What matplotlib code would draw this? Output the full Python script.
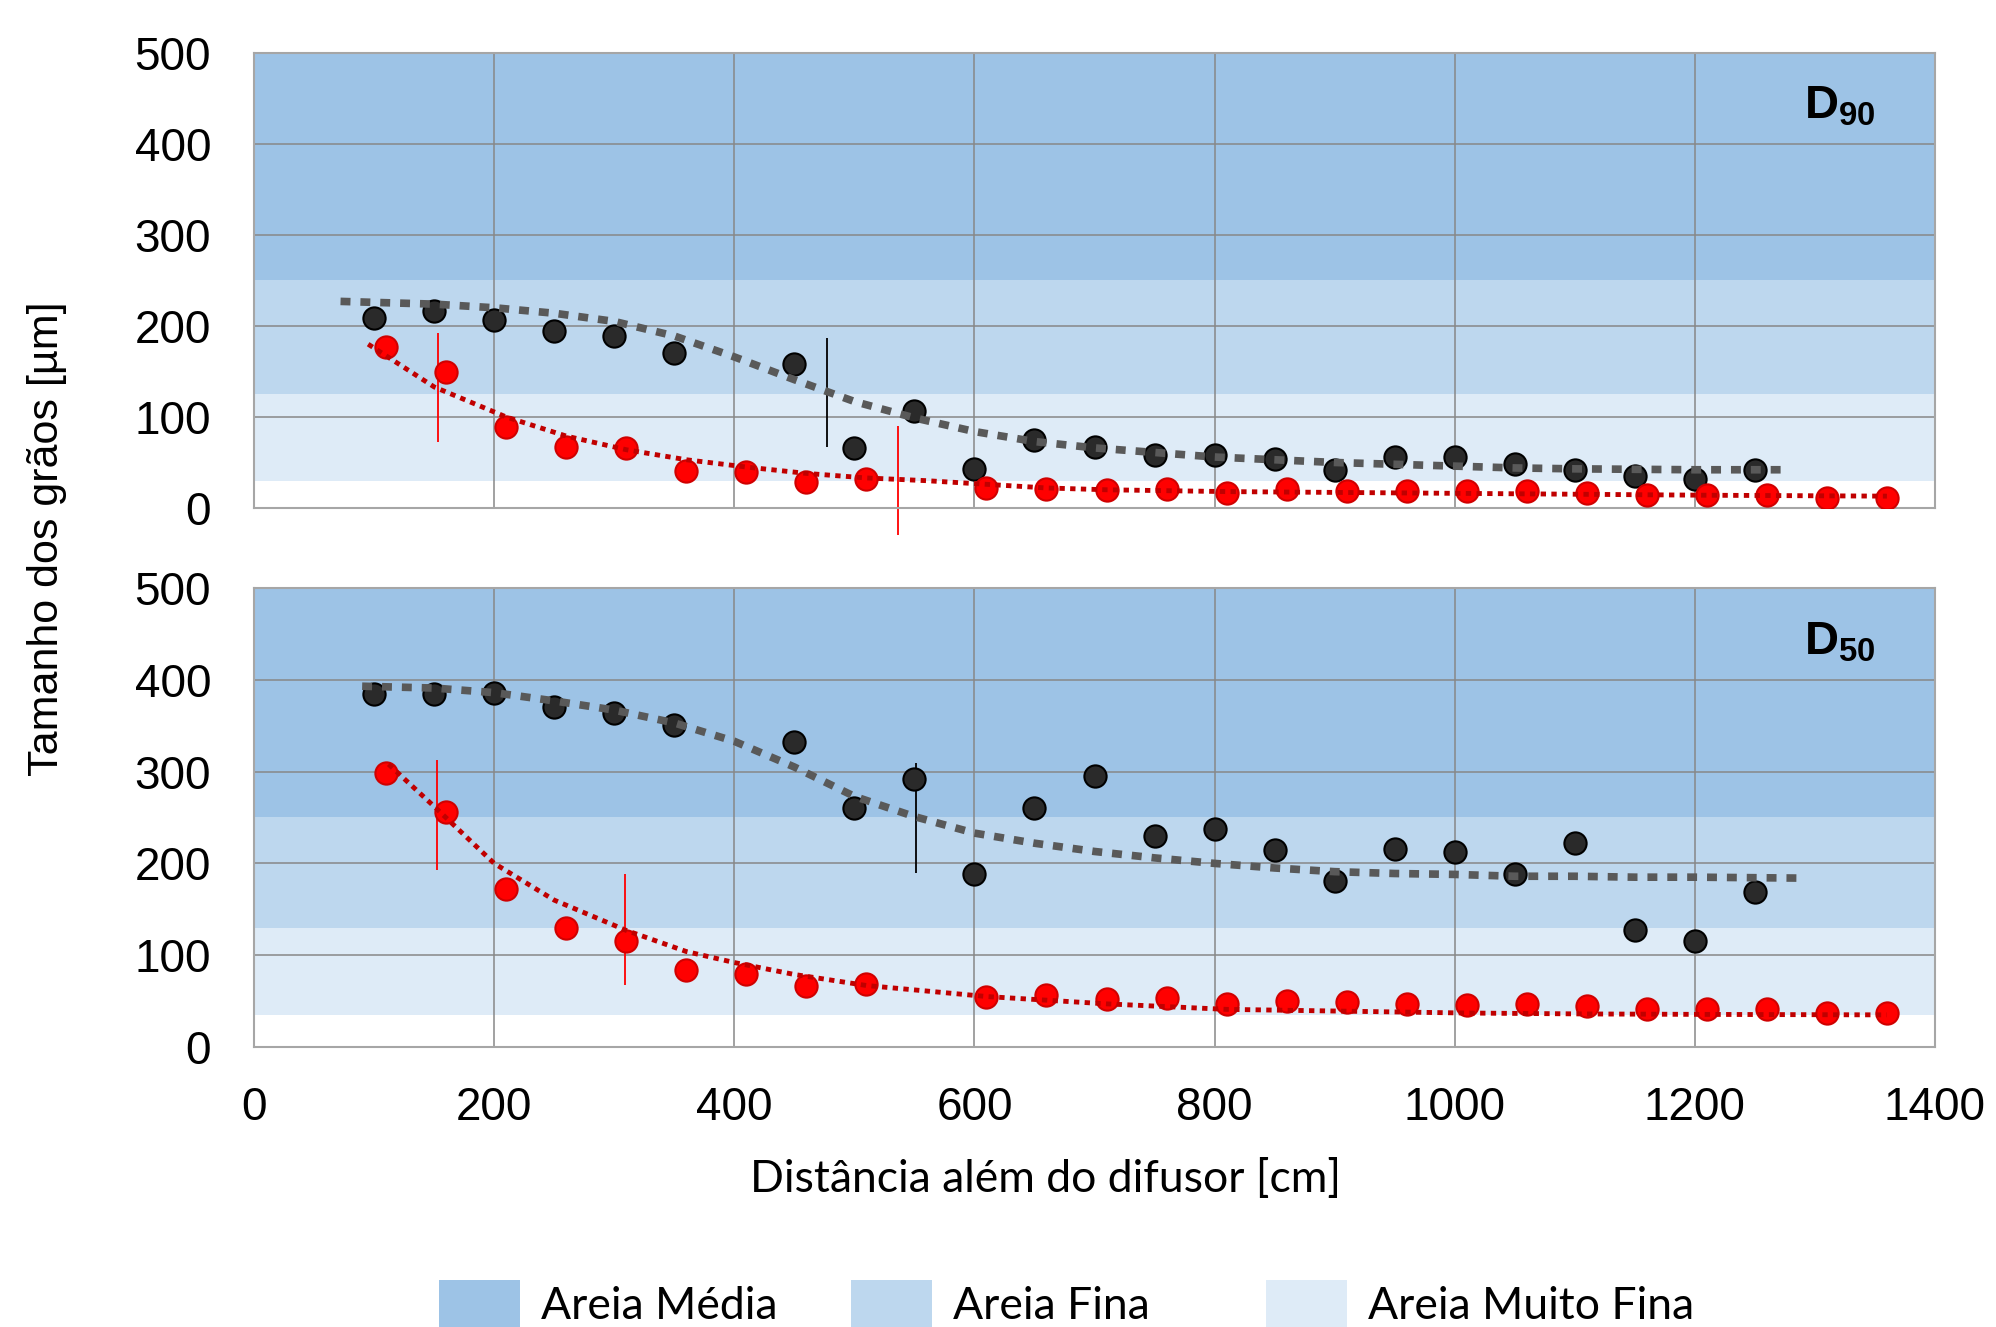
import matplotlib
matplotlib.use("Agg")
import matplotlib.pyplot as plt
from matplotlib.patches import Rectangle

plt.rcParams['font.family'] = ['Liberation Sans', 'DejaVu Sans']
plt.rcParams['mathtext.fontset'] = 'custom'
plt.rcParams['mathtext.bf'] = 'Liberation Sans:bold'
plt.rcParams['mathtext.rm'] = 'Liberation Sans'

# distance beyond diffuser (cm)
x_black = [100, 150, 200, 250, 300, 350, 450, 500, 550, 600, 650, 700, 750, 800,
           850, 900, 950, 1000, 1050, 1100, 1150, 1200, 1250]
x_red = [110, 160, 210, 260, 310, 360, 410, 460, 510, 610, 660, 710, 760, 810,
         860, 910, 960, 1010, 1060, 1110, 1160, 1210, 1260, 1310, 1360]

# D90 (um)
d90_black = [209, 216, 207, 194, 189, 170, 158, 66, 107, 43, 75, 67, 58, 58,
             54, 42, 56, 56, 48, 42, 35, 32, 42]
d90_red = [177, 149, 89, 67, 66, 41, 39, 28, 32, 22, 21, 20, 21, 17,
           21, 19, 19, 19, 19, 17, 14, 14, 14, 11, 11]
# D50 (um)
d50_black = [385, 385, 386, 370, 364, 351, 332, 260, 292, 188, 260, 295, 230, 238,
             215, 181, 216, 212, 188, 222, 127, 116, 169]
d50_red = [299, 256, 172, 130, 116, 84, 79, 66, 69, 55, 57, 52, 53, 47,
           50, 49, 47, 46, 47, 45, 41, 41, 41, 37, 37]

# trend lines
t90_black_x = [72, 150, 200, 250, 300, 350, 400, 450, 500, 550, 600, 650, 700, 750,
               800, 850, 900, 950, 1000, 1050, 1100, 1150, 1200, 1276]
t90_black_y = [227, 224, 220, 214, 205, 189, 166, 141, 117, 99, 84, 73, 66, 61,
               56, 53, 50, 48, 46, 44, 43, 42.5, 42, 42]
t90_red_x = [95, 150, 210, 260, 310, 360, 410, 460, 510, 560, 610, 660, 710, 810,
             910, 1010, 1110, 1210, 1360]
t90_red_y = [180, 133, 100, 79, 64, 53, 45, 38, 33, 30, 26, 22, 20, 18,
             17, 16, 15, 14, 13]
t50_black_x = [90, 150, 200, 250, 300, 350, 400, 450, 500, 550, 600, 650, 700, 750,
               800, 850, 900, 950, 1000, 1050, 1100, 1150, 1200, 1286]
t50_black_y = [393, 391, 386, 377, 367, 353, 333, 305, 273, 251, 233, 222, 213, 206,
               200, 195, 191, 189, 188, 186, 186, 185, 185, 184]
t50_red_x = [112, 150, 200, 250, 310, 360, 400, 450, 510, 560, 610, 710, 810, 910,
             1010, 1110, 1210, 1360]
t50_red_y = [308, 262, 200, 160, 127, 104, 92, 79, 67, 61, 55, 47, 41, 39,
             37, 36, 35.5, 35]

# error bars (+/- 60 um)
err = 60
e90_red_x, e90_red_y = [153, 536], [132, 30]
e90_black_x, e90_black_y = [477], [127]
e50_red_x, e50_red_y = [152, 309], [253, 128]
e50_black_x, e50_black_y = [551], [249]

# sand classes
band_names = ['Areia Média', 'Areia Fina', 'Areia Muito Fina']
band_colors = ['#9DC3E6', '#BDD7EE', '#DEEBF7']
bands90 = [(250, 500), (125, 250), (30, 125)]
bands50 = [(250, 500), (130, 250), (35, 130)]

fig = plt.figure(figsize=(19.96, 13.27), dpi=100)
ax1 = fig.add_axes([0.1273, 0.6172, 0.8421, 0.3429])
ax2 = fig.add_axes([0.1273, 0.2110, 0.8421, 0.3459])

panels = [
    (ax1, bands90, d90_black, d90_red, t90_black_x, t90_black_y, t90_red_x, t90_red_y,
     e90_red_x, e90_red_y, e90_black_x, e90_black_y, '90'),
    (ax2, bands50, d50_black, d50_red, t50_black_x, t50_black_y, t50_red_x, t50_red_y,
     e50_red_x, e50_red_y, e50_black_x, e50_black_y, '50'),
]

for (ax, bands, yb, yr, tbx, tby, trx, try_, erx, ery, ebx, eby, lab) in panels:
    for (lo, hi), c in zip(bands, band_colors):
        ax.axhspan(lo, hi, color=c, lw=0, zorder=0.1)
    ax.set_xlim(0, 1400)
    ax.set_ylim(0, 500)
    ax.set_xticks(range(0, 1401, 200))
    ax.set_yticks(range(0, 501, 100))
    ax.set_axisbelow(True)
    ax.grid(True, color='#878787', lw=1.1)
    for s in ax.spines.values():
        s.set_color('#A6A6A6')
        s.set_linewidth(1.5)
    ax.tick_params(length=0, labelsize=33, pad=31)

    ax.vlines(erx, [v - err for v in ery], [v + err for v in ery], color='#FF0000',
              lw=1.3, zorder=2, clip_on=False)
    ax.vlines(ebx, [v - err for v in eby], [v + err for v in eby], color='black',
              lw=1.3, zorder=2, clip_on=False)

    ax.plot(x_black, yb, 'o', ms=16, mfc='#2a2a2a', mec='black', mew=1.5, zorder=3)
    ax.plot(x_red, yr, 'o', ms=16, mfc='#FF0000', mec='#D00000', mew=1.5, zorder=3)

    ax.plot(tbx, tby, color='#595959', lw=5.5, dashes=(1.3, 1.3),
            dash_capstyle='butt', zorder=4)
    ax.plot(trx, try_, color='#C00000', lw=3.5, dashes=(1.1, 1.1),
            dash_capstyle='butt', zorder=4)

    ax.text(0.922, 0.856, r'$\mathbf{D_{%s}}$' % lab, transform=ax.transAxes,
            fontsize=34, ha='left', va='baseline')

ax1.tick_params(labelbottom=False)
ax2.tick_params(axis='x', pad=28)

fig.text(0.0235, 0.594, 'Tamanho dos grãos [µm]', rotation=90, fontsize=31,
         ha='center', va='center')
fig.text(0.5236, 0.111, 'Distância além do difusor [cm]', fontsize=32,
         family=['Lato', 'DejaVu Sans'], ha='center', va='center')

# legend for the sand classes
leg_x = [439, 851, 1266]
for name, c, x0 in zip(band_names, band_colors, leg_x):
    fig.add_artist(Rectangle((x0 / 1996, -0.01), 81 / 1996, (1327 - 1280) / 1327 + 0.01,
                             transform=fig.transFigure, color=c, lw=0))
    fig.text((x0 + 102) / 1996, 1 - 1319 / 1327, name, fontsize=32,
             family=['Lato', 'DejaVu Sans'], ha='left', va='baseline')

fig.savefig('out.png', dpi=100)
